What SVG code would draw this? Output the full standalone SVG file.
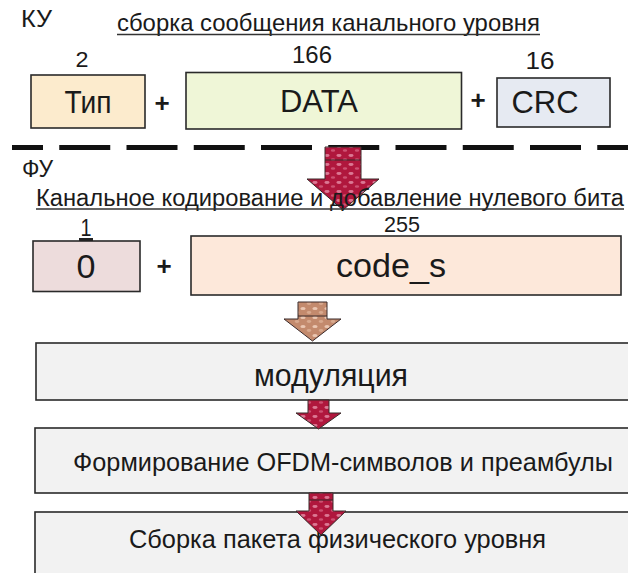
<svg xmlns="http://www.w3.org/2000/svg" width="628" height="573" viewBox="0 0 628 573">
<defs>
<style>
text{font-family:"Liberation Sans",Arial,sans-serif;fill:#1a1a1a}
.box{stroke:#2a2a2a;stroke-width:1.6}
.gray{fill:#f2f2f2}
.ul{stroke:#333;stroke-width:1.3}
.arr{stroke:#3a2a2a;stroke-width:1}
.plus{font-weight:bold;font-size:26px}
.mid{text-anchor:middle}
</style>
<pattern id="redTex" width="12" height="9" patternUnits="userSpaceOnUse">
<rect width="12" height="9" fill="#b0173d"/>
<ellipse cx="3" cy="2.5" rx="2.6" ry="1.4" fill="#e38aa3" opacity="0.85"/>
<ellipse cx="9" cy="6.5" rx="2.2" ry="1.3" fill="#d4607f" opacity="0.8"/>
</pattern>
<pattern id="peachTex" width="12" height="9" patternUnits="userSpaceOnUse">
<rect width="12" height="9" fill="#c38a6d"/>
<ellipse cx="3" cy="2.5" rx="2.6" ry="1.5" fill="#efcdb9" opacity="0.9"/>
<ellipse cx="9" cy="6.5" rx="2.2" ry="1.4" fill="#dcae94" opacity="0.85"/>
</pattern>
</defs>
<rect width="628" height="573" fill="#ffffff"/>

<g id="separator">
<line x1="12" y1="147.5" x2="628" y2="147.5" stroke="#111" stroke-width="5" stroke-dasharray="51 16.25" stroke-dashoffset="20"/>
</g>

<g id="node-tip">
<rect class="box" x="31" y="75" width="114" height="53" fill="#fcebcd"/>
<text class="mid" x="88" y="113" font-size="32" textLength="47" lengthAdjust="spacingAndGlyphs">Тип</text>
<text class="mid" x="82" y="67" font-size="22" textLength="13" lengthAdjust="spacingAndGlyphs">2</text>
</g>
<g id="node-data">
<rect class="box" x="186" y="72.5" width="275.5" height="56.5" fill="#eff6d7"/>
<text class="mid" x="319" y="112" font-size="32" textLength="78" lengthAdjust="spacingAndGlyphs">DATA</text>
<text class="mid" x="312" y="63" font-size="23" textLength="40" lengthAdjust="spacingAndGlyphs">166</text>
</g>
<g id="node-crc">
<rect class="box" x="497" y="78" width="113" height="49" fill="#e6eaf2"/>
<text class="mid" x="545" y="113" font-size="32" textLength="67" lengthAdjust="spacingAndGlyphs">CRC</text>
<text class="mid" x="540" y="69" font-size="24" textLength="29" lengthAdjust="spacingAndGlyphs">16</text>
</g>
<g id="plus-top">
<text class="plus mid" x="162" y="112">+</text>
<text class="plus mid" x="478" y="109">+</text>
</g>

<g id="node-zero">
<rect class="box" x="33" y="241" width="107" height="50.5" fill="#eddcdc"/>
<text class="mid" x="86" y="278" font-size="34" textLength="19" lengthAdjust="spacingAndGlyphs">0</text>
<text class="mid" x="86" y="236" font-size="23" textLength="11" lengthAdjust="spacingAndGlyphs">1</text>
<rect x="79" y="238" width="14" height="3" fill="#222"/>
</g>
<g id="node-code">
<rect class="box" x="191" y="236" width="430" height="59" fill="#fde8da"/>
<text class="mid" x="391" y="277" font-size="33" textLength="110" lengthAdjust="spacingAndGlyphs">code_s</text>
<text class="mid" x="402" y="232" font-size="22" textLength="36" lengthAdjust="spacingAndGlyphs">255</text>
</g>
<g id="plus-mid">
<text class="plus mid" x="164" y="275">+</text>
</g>

<g id="node-mod">
<rect class="box gray" x="36" y="343" width="610" height="57"/>
<text class="mid" x="331" y="386" font-size="31" textLength="154" lengthAdjust="spacingAndGlyphs">модуляция</text>
</g>
<g id="node-ofdm">
<rect class="box gray" x="35" y="428" width="611" height="65"/>
<text class="mid" x="343" y="471" font-size="25" textLength="540" lengthAdjust="spacingAndGlyphs">Формирование OFDM-символов и преамбулы</text>
</g>
<g id="node-packet">
<rect class="box gray" x="35" y="512" width="611" height="80"/>
<text class="mid" x="337.5" y="548" font-size="25" textLength="417" lengthAdjust="spacingAndGlyphs">Сборка пакета физического уровня</text>
</g>

<g id="connectors">
<path class="arr" d="M325,147 H361 V179 H379 L343,210 L307,179 H325 Z" fill="url(#redTex)"/>
<line x1="325" y1="160" x2="361" y2="160" stroke="#3a2a2a" stroke-width="1"/>
<path class="arr" d="M298,302 H327 V319 H341 L312.5,341 L284,319 H298 Z" fill="url(#peachTex)"/>
<line x1="298" y1="316" x2="327" y2="316" stroke="#3a2a2a" stroke-width="1"/>
<path class="arr" d="M308,400 H329 V413 H341 L318.5,429 L296,413 H308 Z" fill="url(#redTex)"/>
<path class="arr" d="M309,493 H333 V511 H346 L321,535 L296,511 H309 Z" fill="url(#redTex)"/>
<line x1="309" y1="500" x2="333" y2="500" stroke="#3a2a2a" stroke-width="1"/>
</g>

<g id="titles">
<text x="21" y="27" font-size="24" textLength="31" lengthAdjust="spacingAndGlyphs">КУ</text>
<text x="117" y="31" font-size="24" textLength="423" lengthAdjust="spacingAndGlyphs">сборка сообщения канального уровня</text>
<line class="ul" x1="117" y1="34.5" x2="540" y2="34.5"/>
<text x="22" y="177" font-size="24" textLength="31" lengthAdjust="spacingAndGlyphs">ФУ</text>
<text x="36" y="206" font-size="23" textLength="588" lengthAdjust="spacingAndGlyphs">Канальное кодирование и добавление нулевого бита</text>
<line class="ul" x1="36" y1="209" x2="624" y2="209"/>
</g>
</svg>
